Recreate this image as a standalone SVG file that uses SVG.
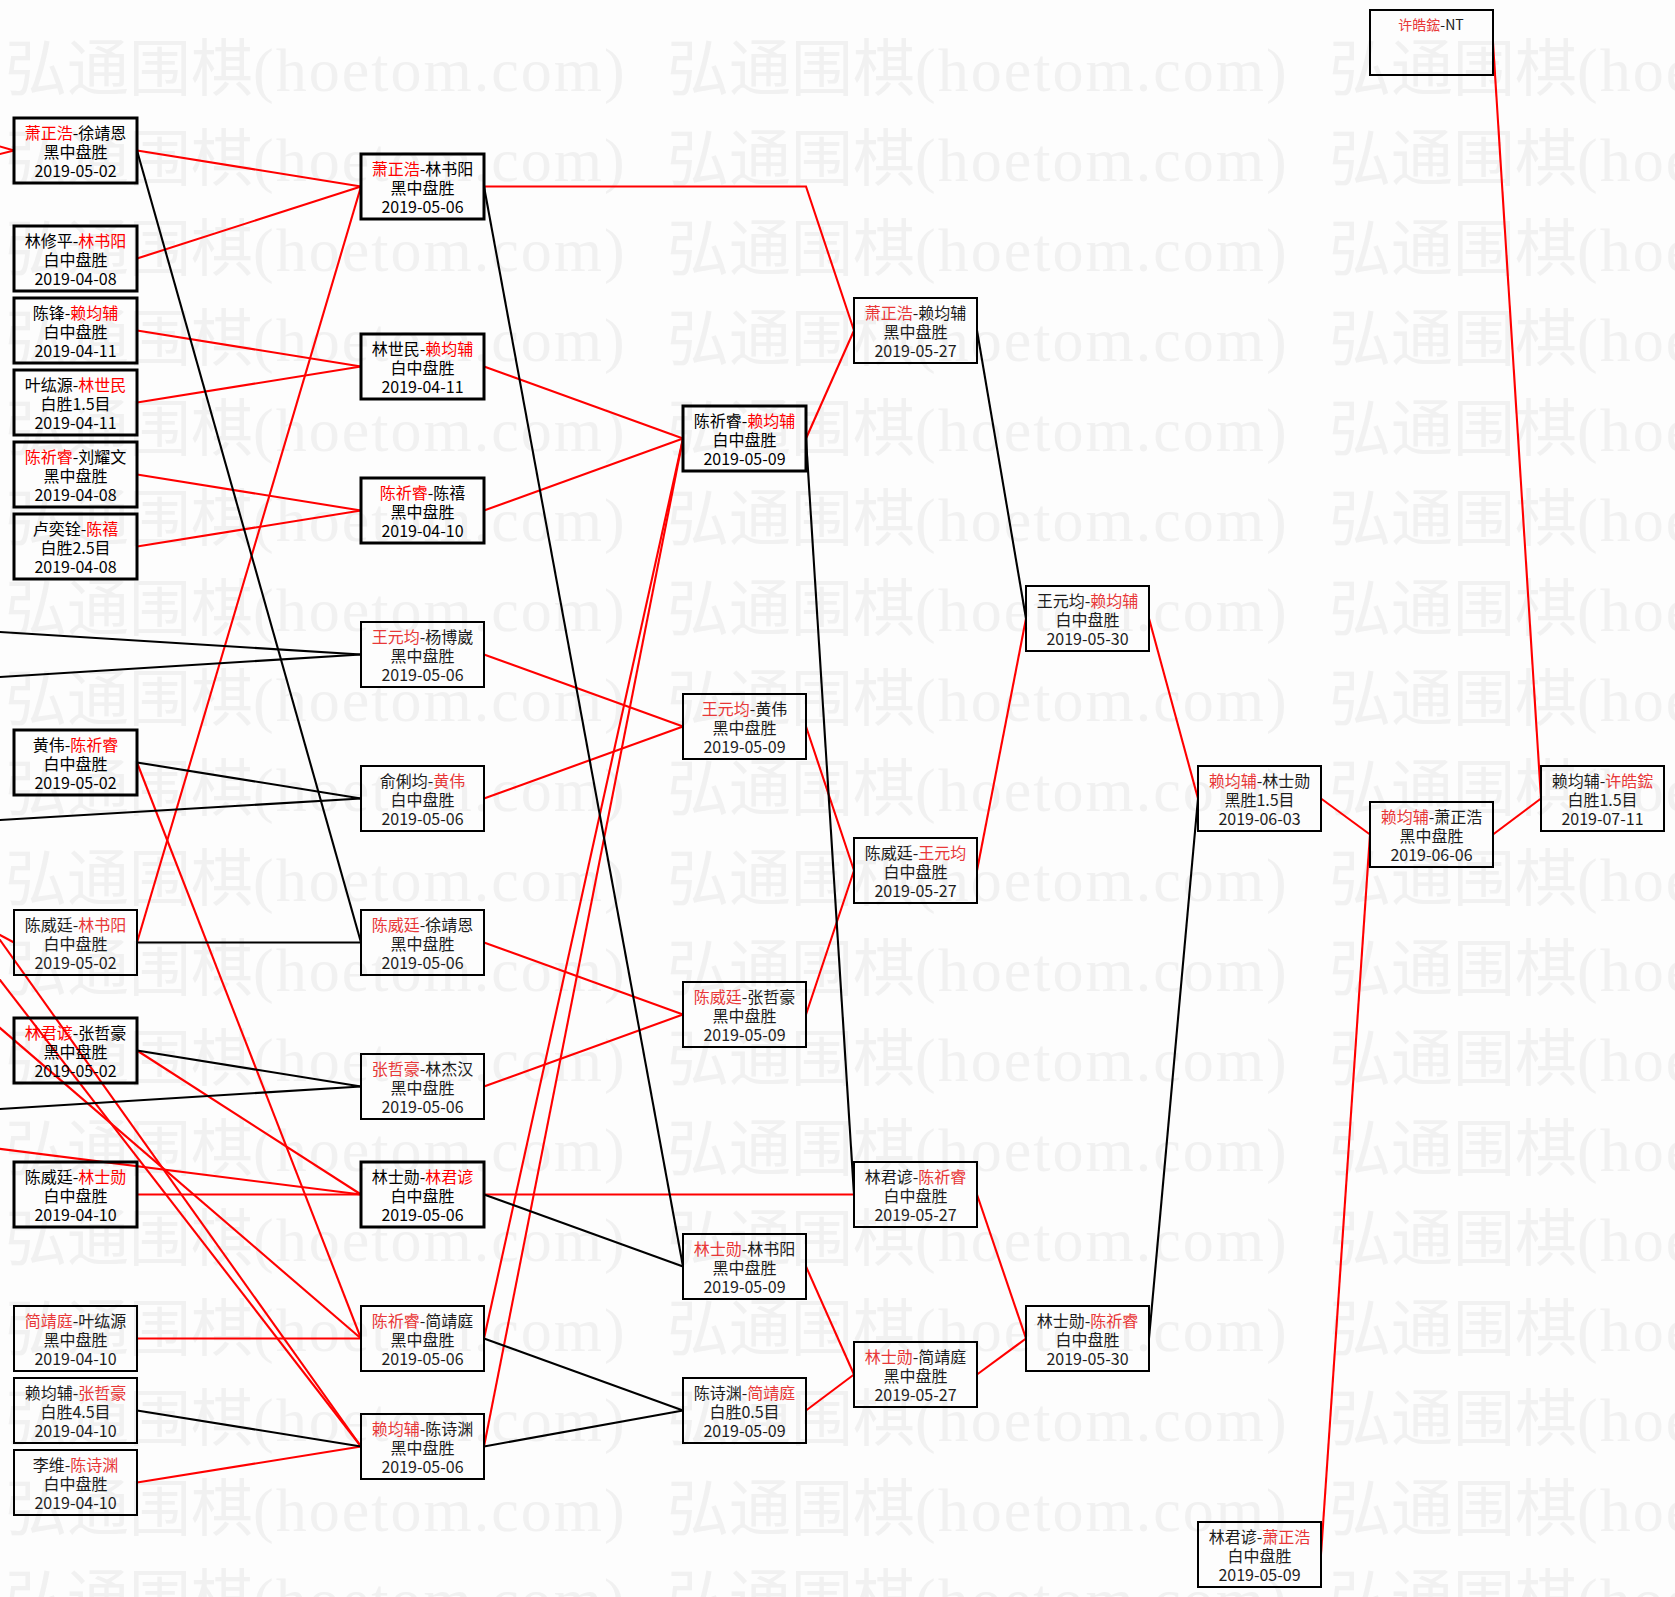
<svg xmlns="http://www.w3.org/2000/svg" width="1675" height="1597" viewBox="0 0 1675 1597">
<style>
.wm{font-family:"Noto Sans CJK SC",sans-serif;font-size:62px;fill:#f1f1f1}
.wa{font-family:"Liberation Serif",serif;letter-spacing:2px}
.node rect{fill:none;stroke:#000;stroke-width:2}
.node.b rect{stroke-width:3}
.node text{font-family:"Noto Sans CJK SC",sans-serif;font-size:16px;text-anchor:middle;fill:#1c1c1c}
.node.b text{fill:#000}
.node .r{fill:#e83838}
.node.b .r{fill:#f00}
.node text.s{font-size:14px}
#links path{fill:none;stroke-width:2.1}
#links .w{stroke:#f00}
#links .l{stroke:#000}
</style>
<defs>
<g id="wmrow">
<text x="5" class="wm">弘通围棋<tspan class="wa">(hoetom.com)</tspan></text>
<text x="667" class="wm">弘通围棋<tspan class="wa">(hoetom.com)</tspan></text>
<text x="1329" class="wm">弘通围棋<tspan class="wa">(hoetom.com)</tspan></text>
</g>
</defs>
<rect width="1675" height="1597" fill="#fdfdfd"/>
<g id="watermark">
<use href="#wmrow" y="91"/><use href="#wmrow" y="181"/><use href="#wmrow" y="271"/><use href="#wmrow" y="361"/><use href="#wmrow" y="451"/><use href="#wmrow" y="541"/><use href="#wmrow" y="631"/><use href="#wmrow" y="721"/><use href="#wmrow" y="811"/><use href="#wmrow" y="901"/><use href="#wmrow" y="991"/><use href="#wmrow" y="1081"/><use href="#wmrow" y="1171"/><use href="#wmrow" y="1261"/><use href="#wmrow" y="1351"/><use href="#wmrow" y="1441"/><use href="#wmrow" y="1531"/><use href="#wmrow" y="1621"/>
</g>
<g id="links">
<path class="w" d="M137 150.5L361 186.5"/>
<path class="w" d="M137 258.5L361 186.5"/>
<path class="w" d="M137 942.5L361 186.5"/>
<path class="w" d="M137 330.5L361 366.5"/>
<path class="w" d="M137 402.5L361 366.5"/>
<path class="w" d="M137 474.5L361 510.5"/>
<path class="w" d="M137 546.5L361 510.5"/>
<path class="w" d="M137 762.5L361 1338.5"/>
<path class="w" d="M137 1050.5L361 1194.5"/>
<path class="w" d="M137 1194.5L361 1194.5"/>
<path class="w" d="M137 1338.5L361 1338.5"/>
<path class="w" d="M137 1482.5L361 1446.5"/>
<path class="w" d="M484 366.5L683 438.5"/>
<path class="w" d="M484 510.5L683 438.5"/>
<path class="w" d="M484 1338.5L683 438.5"/>
<path class="w" d="M484 1446.5L683 438.5"/>
<path class="w" d="M484 654.5L683 726.5"/>
<path class="w" d="M484 798.5L683 726.5"/>
<path class="w" d="M484 942.5L683 1014.5"/>
<path class="w" d="M484 1086.5L683 1014.5"/>
<path class="w" d="M484 186.5L806 186.5L854 330.5"/>
<path class="w" d="M806 438.5L854 330.5"/>
<path class="w" d="M806 726.5L854 870.5"/>
<path class="w" d="M806 1014.5L854 870.5"/>
<path class="w" d="M484 1194.5L854 1194.5"/>
<path class="w" d="M806 1266.5L854 1374.5"/>
<path class="w" d="M806 1410.5L854 1374.5"/>
<path class="w" d="M977 870.5L1026 618.5"/>
<path class="w" d="M977 1194.5L1026 1338.5"/>
<path class="w" d="M977 1374.5L1026 1338.5"/>
<path class="w" d="M1149 618.5L1198 798.5"/>
<path class="w" d="M1321 798.5L1370 834.5"/>
<path class="w" d="M1321 1554.5L1370 834.5"/>
<path class="w" d="M1493 834.5L1541 798.5"/>
<path class="w" d="M1493 42.5L1541 798.5"/>
<path class="w" d="M-20 140.8L14 150.5"/>
<path class="w" d="M-20 159L14 150.5"/>
<path class="w" d="M-20 924.3L14 942.5"/>
<path class="w" d="M-20 1146.4L361 1194.5"/>
<path class="w" d="M-20 954.2L361 1446.5"/>
<path class="w" d="M-20 912L361 1446.5"/>
<path class="w" d="M-20 1010.8L361 1338.5"/>
<path class="l" d="M137 150.5L361 942.5"/>
<path class="l" d="M137 942.5L361 942.5"/>
<path class="l" d="M137 762.5L361 798.5"/>
<path class="l" d="M137 1050.5L361 1086.5"/>
<path class="l" d="M137 1410.5L361 1446.5"/>
<path class="l" d="M484 186.5L683 1266.5"/>
<path class="l" d="M484 1194.5L683 1266.5"/>
<path class="l" d="M484 1338.5L683 1410.5"/>
<path class="l" d="M484 1446.5L683 1410.5"/>
<path class="l" d="M806 438.5L854 1194.5"/>
<path class="l" d="M977 330.5L1026 618.5"/>
<path class="l" d="M1149 1338.5L1198 798.5"/>
<path class="l" d="M-20 630.8L361 654.5"/>
<path class="l" d="M-20 678.2L361 654.5"/>
<path class="l" d="M-20 821.2L361 798.5"/>
<path class="l" d="M-20 1110.2L361 1086.5"/>
</g>
<g id="n1-1" class="node b" transform="translate(14,118)"><rect width="123" height="65"/><text x="61.5" y="20.5"><tspan class="r">萧正浩</tspan>-徐靖恩</text><text x="61.5" y="39.5">黑中盘胜</text><text x="61.5" y="59">2019-05-02</text></g>
<g id="n1-2" class="node b" transform="translate(14,226)"><rect width="123" height="65"/><text x="61.5" y="20.5">林修平-<tspan class="r">林书阳</tspan></text><text x="61.5" y="39.5">白中盘胜</text><text x="61.5" y="59">2019-04-08</text></g>
<g id="n1-3" class="node b" transform="translate(14,298)"><rect width="123" height="65"/><text x="61.5" y="20.5">陈锋-<tspan class="r">赖均辅</tspan></text><text x="61.5" y="39.5">白中盘胜</text><text x="61.5" y="59">2019-04-11</text></g>
<g id="n1-4" class="node b" transform="translate(14,370)"><rect width="123" height="65"/><text x="61.5" y="20.5">叶纮源-<tspan class="r">林世民</tspan></text><text x="61.5" y="39.5">白胜1.5目</text><text x="61.5" y="59">2019-04-11</text></g>
<g id="n1-5" class="node b" transform="translate(14,442)"><rect width="123" height="65"/><text x="61.5" y="20.5"><tspan class="r">陈祈睿</tspan>-刘耀文</text><text x="61.5" y="39.5">黑中盘胜</text><text x="61.5" y="59">2019-04-08</text></g>
<g id="n1-6" class="node b" transform="translate(14,514)"><rect width="123" height="65"/><text x="61.5" y="20.5">卢奕铨-<tspan class="r">陈禧</tspan></text><text x="61.5" y="39.5">白胜2.5目</text><text x="61.5" y="59">2019-04-08</text></g>
<g id="n1-7" class="node b" transform="translate(14,730)"><rect width="123" height="65"/><text x="61.5" y="20.5">黄伟-<tspan class="r">陈祈睿</tspan></text><text x="61.5" y="39.5">白中盘胜</text><text x="61.5" y="59">2019-05-02</text></g>
<g id="n1-8" class="node" transform="translate(14,910)"><rect width="123" height="65"/><text x="61.5" y="20.5">陈威廷-<tspan class="r">林书阳</tspan></text><text x="61.5" y="39.5">白中盘胜</text><text x="61.5" y="59">2019-05-02</text></g>
<g id="n1-9" class="node b" transform="translate(14,1018)"><rect width="123" height="65"/><text x="61.5" y="20.5"><tspan class="r">林君谚</tspan>-张哲豪</text><text x="61.5" y="39.5">黑中盘胜</text><text x="61.5" y="59">2019-05-02</text></g>
<g id="n1-10" class="node b" transform="translate(14,1162)"><rect width="123" height="65"/><text x="61.5" y="20.5">陈威廷-<tspan class="r">林士勋</tspan></text><text x="61.5" y="39.5">白中盘胜</text><text x="61.5" y="59">2019-04-10</text></g>
<g id="n1-11" class="node" transform="translate(14,1306)"><rect width="123" height="65"/><text x="61.5" y="20.5"><tspan class="r">简靖庭</tspan>-叶纮源</text><text x="61.5" y="39.5">黑中盘胜</text><text x="61.5" y="59">2019-04-10</text></g>
<g id="n1-12" class="node" transform="translate(14,1378)"><rect width="123" height="65"/><text x="61.5" y="20.5">赖均辅-<tspan class="r">张哲豪</tspan></text><text x="61.5" y="39.5">白胜4.5目</text><text x="61.5" y="59">2019-04-10</text></g>
<g id="n1-13" class="node" transform="translate(14,1450)"><rect width="123" height="65"/><text x="61.5" y="20.5">李维-<tspan class="r">陈诗渊</tspan></text><text x="61.5" y="39.5">白中盘胜</text><text x="61.5" y="59">2019-04-10</text></g>
<g id="n2-1" class="node b" transform="translate(361,154)"><rect width="123" height="65"/><text x="61.5" y="20.5"><tspan class="r">萧正浩</tspan>-林书阳</text><text x="61.5" y="39.5">黑中盘胜</text><text x="61.5" y="59">2019-05-06</text></g>
<g id="n2-2" class="node b" transform="translate(361,334)"><rect width="123" height="65"/><text x="61.5" y="20.5">林世民-<tspan class="r">赖均辅</tspan></text><text x="61.5" y="39.5">白中盘胜</text><text x="61.5" y="59">2019-04-11</text></g>
<g id="n2-3" class="node b" transform="translate(361,478)"><rect width="123" height="65"/><text x="61.5" y="20.5"><tspan class="r">陈祈睿</tspan>-陈禧</text><text x="61.5" y="39.5">黑中盘胜</text><text x="61.5" y="59">2019-04-10</text></g>
<g id="n2-4" class="node" transform="translate(361,622)"><rect width="123" height="65"/><text x="61.5" y="20.5"><tspan class="r">王元均</tspan>-杨博崴</text><text x="61.5" y="39.5">黑中盘胜</text><text x="61.5" y="59">2019-05-06</text></g>
<g id="n2-5" class="node" transform="translate(361,766)"><rect width="123" height="65"/><text x="61.5" y="20.5">俞俐均-<tspan class="r">黄伟</tspan></text><text x="61.5" y="39.5">白中盘胜</text><text x="61.5" y="59">2019-05-06</text></g>
<g id="n2-6" class="node" transform="translate(361,910)"><rect width="123" height="65"/><text x="61.5" y="20.5"><tspan class="r">陈威廷</tspan>-徐靖恩</text><text x="61.5" y="39.5">黑中盘胜</text><text x="61.5" y="59">2019-05-06</text></g>
<g id="n2-7" class="node" transform="translate(361,1054)"><rect width="123" height="65"/><text x="61.5" y="20.5"><tspan class="r">张哲豪</tspan>-林杰汉</text><text x="61.5" y="39.5">黑中盘胜</text><text x="61.5" y="59">2019-05-06</text></g>
<g id="n2-8" class="node b" transform="translate(361,1162)"><rect width="123" height="65"/><text x="61.5" y="20.5">林士勋-<tspan class="r">林君谚</tspan></text><text x="61.5" y="39.5">白中盘胜</text><text x="61.5" y="59">2019-05-06</text></g>
<g id="n2-9" class="node" transform="translate(361,1306)"><rect width="123" height="65"/><text x="61.5" y="20.5"><tspan class="r">陈祈睿</tspan>-简靖庭</text><text x="61.5" y="39.5">黑中盘胜</text><text x="61.5" y="59">2019-05-06</text></g>
<g id="n2-10" class="node" transform="translate(361,1414)"><rect width="123" height="65"/><text x="61.5" y="20.5"><tspan class="r">赖均辅</tspan>-陈诗渊</text><text x="61.5" y="39.5">黑中盘胜</text><text x="61.5" y="59">2019-05-06</text></g>
<g id="n3-1" class="node b" transform="translate(683,406)"><rect width="123" height="65"/><text x="61.5" y="20.5">陈祈睿-<tspan class="r">赖均辅</tspan></text><text x="61.5" y="39.5">白中盘胜</text><text x="61.5" y="59">2019-05-09</text></g>
<g id="n3-2" class="node" transform="translate(683,694)"><rect width="123" height="65"/><text x="61.5" y="20.5"><tspan class="r">王元均</tspan>-黄伟</text><text x="61.5" y="39.5">黑中盘胜</text><text x="61.5" y="59">2019-05-09</text></g>
<g id="n3-3" class="node" transform="translate(683,982)"><rect width="123" height="65"/><text x="61.5" y="20.5"><tspan class="r">陈威廷</tspan>-张哲豪</text><text x="61.5" y="39.5">黑中盘胜</text><text x="61.5" y="59">2019-05-09</text></g>
<g id="n3-4" class="node" transform="translate(683,1234)"><rect width="123" height="65"/><text x="61.5" y="20.5"><tspan class="r">林士勋</tspan>-林书阳</text><text x="61.5" y="39.5">黑中盘胜</text><text x="61.5" y="59">2019-05-09</text></g>
<g id="n3-5" class="node" transform="translate(683,1378)"><rect width="123" height="65"/><text x="61.5" y="20.5">陈诗渊-<tspan class="r">简靖庭</tspan></text><text x="61.5" y="39.5">白胜0.5目</text><text x="61.5" y="59">2019-05-09</text></g>
<g id="n4-1" class="node" transform="translate(854,298)"><rect width="123" height="65"/><text x="61.5" y="20.5"><tspan class="r">萧正浩</tspan>-赖均辅</text><text x="61.5" y="39.5">黑中盘胜</text><text x="61.5" y="59">2019-05-27</text></g>
<g id="n4-2" class="node" transform="translate(854,838)"><rect width="123" height="65"/><text x="61.5" y="20.5">陈威廷-<tspan class="r">王元均</tspan></text><text x="61.5" y="39.5">白中盘胜</text><text x="61.5" y="59">2019-05-27</text></g>
<g id="n4-3" class="node" transform="translate(854,1162)"><rect width="123" height="65"/><text x="61.5" y="20.5">林君谚-<tspan class="r">陈祈睿</tspan></text><text x="61.5" y="39.5">白中盘胜</text><text x="61.5" y="59">2019-05-27</text></g>
<g id="n4-4" class="node" transform="translate(854,1342)"><rect width="123" height="65"/><text x="61.5" y="20.5"><tspan class="r">林士勋</tspan>-简靖庭</text><text x="61.5" y="39.5">黑中盘胜</text><text x="61.5" y="59">2019-05-27</text></g>
<g id="n5-1" class="node" transform="translate(1026,586)"><rect width="123" height="65"/><text x="61.5" y="20.5">王元均-<tspan class="r">赖均辅</tspan></text><text x="61.5" y="39.5">白中盘胜</text><text x="61.5" y="59">2019-05-30</text></g>
<g id="n5-2" class="node" transform="translate(1026,1306)"><rect width="123" height="65"/><text x="61.5" y="20.5">林士勋-<tspan class="r">陈祈睿</tspan></text><text x="61.5" y="39.5">白中盘胜</text><text x="61.5" y="59">2019-05-30</text></g>
<g id="n6-1" class="node" transform="translate(1198,766)"><rect width="123" height="65"/><text x="61.5" y="20.5"><tspan class="r">赖均辅</tspan>-林士勋</text><text x="61.5" y="39.5">黑胜1.5目</text><text x="61.5" y="59">2019-06-03</text></g>
<g id="n6-2" class="node" transform="translate(1198,1522)"><rect width="123" height="65"/><text x="61.5" y="20.5">林君谚-<tspan class="r">萧正浩</tspan></text><text x="61.5" y="39.5">白中盘胜</text><text x="61.5" y="59">2019-05-09</text></g>
<g id="n7-1" class="node" transform="translate(1370,802)"><rect width="123" height="65"/><text x="61.5" y="20.5"><tspan class="r">赖均辅</tspan>-萧正浩</text><text x="61.5" y="39.5">黑中盘胜</text><text x="61.5" y="59">2019-06-06</text></g>
<g id="n8-1" class="node" transform="translate(1541,766)"><rect width="123" height="65"/><text x="61.5" y="20.5">赖均辅-<tspan class="r">许皓鋐</tspan></text><text x="61.5" y="39.5">白胜1.5目</text><text x="61.5" y="59">2019-07-11</text></g>
<g id="n-nt" class="node" transform="translate(1370,10)"><rect width="123" height="65"/><text class="s" x="61" y="19.5"><tspan class="r">许皓鋐</tspan>-NT</text></g>
</svg>
